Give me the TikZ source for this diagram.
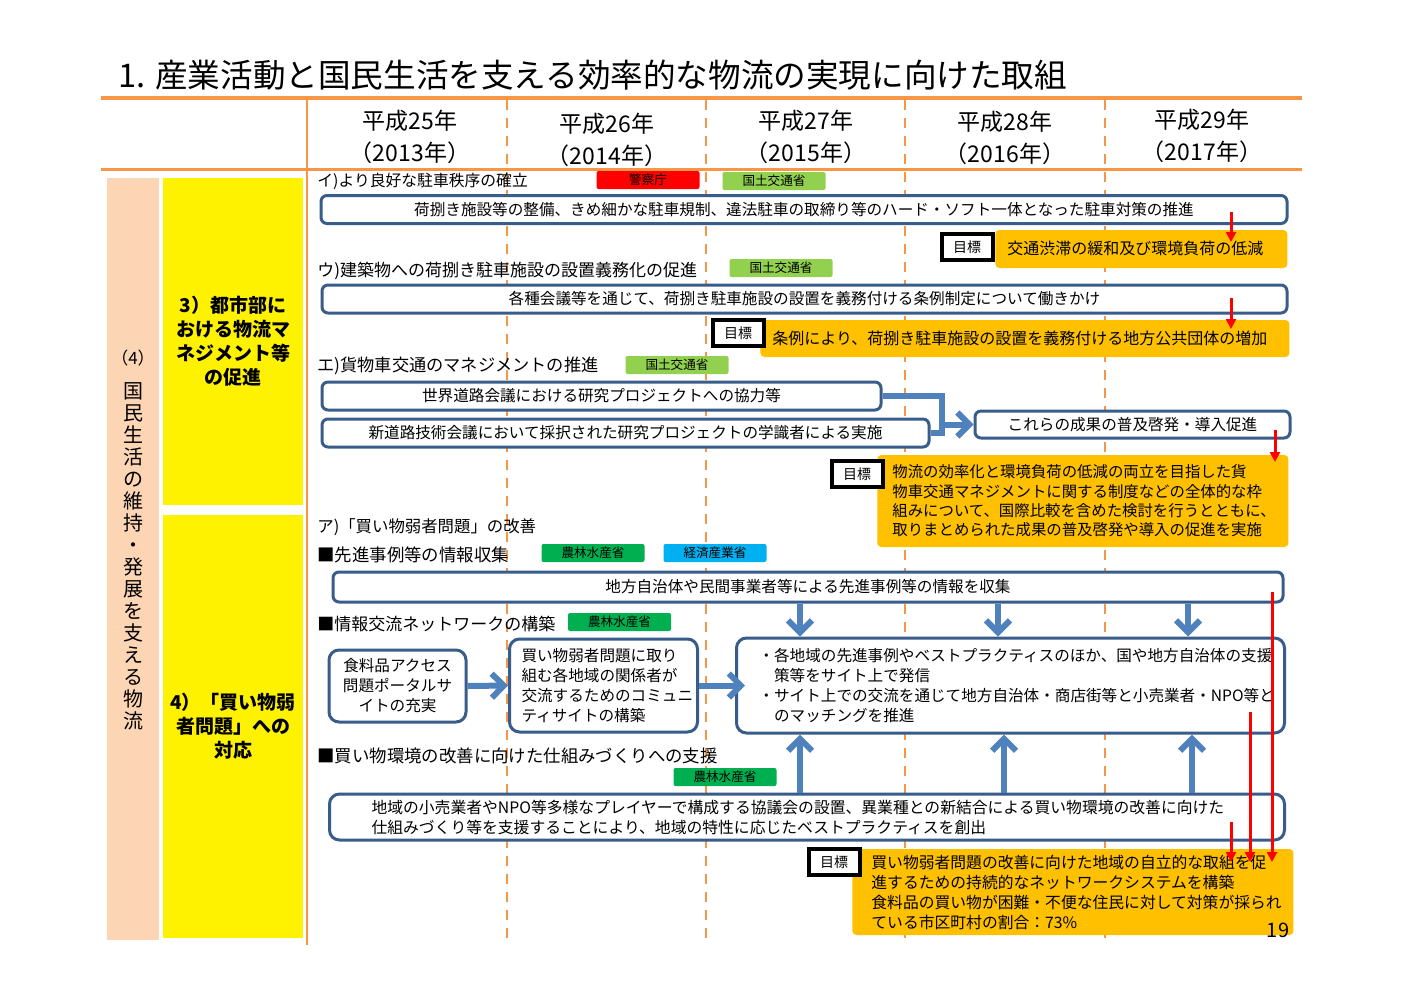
\documentclass[tikz,border=0pt]{standalone}
\usepackage{fontspec}
\setmainfont{Noto Sans CJK JP}
\usetikzlibrary{positioning,arrows.meta}

\definecolor{ruleor}{HTML}{F79646}
\definecolor{peach}{HTML}{FCD5B5}
\definecolor{navy}{HTML}{385D8A}
\definecolor{steel}{HTML}{4F81BD}
\definecolor{gold}{HTML}{FFC000}
\definecolor{mlit}{HTML}{92D050}
\definecolor{maff}{HTML}{00B050}
\definecolor{meti}{HTML}{00B0F0}

\newcommand\fsbody{\fontsize{7.8}{10}\selectfont}
\newcommand\fsgoal{\fontsize{8}{10}\selectfont}
\newcommand\fshead{\fontsize{8.7}{10}\selectfont}
\newcommand\fstag{\fontsize{6.3}{7}\selectfont}

\begin{document}
\begin{tikzpicture}[
  x=0.5pt, y=-0.5pt,
  font=\fsbody,
  box/.style={draw=navy, line width=1.5pt, fill=white, rounded corners=3pt, inner sep=0pt},
  bar/.style={box, minimum height=14pt},
  rbox/.style={box, rounded corners=5pt},
  goal/.style={fill=gold, rounded corners=2pt, anchor=west, align=left, inner ysep=0pt, font=\fsgoal},
  aim/.style={draw=black, line width=2pt, fill=white, minimum width=25.5pt, minimum height=13pt,
              inner sep=0pt, font=\fontsize{7}{8}\selectfont},
  agency/.style={minimum width=51.5pt, minimum height=9pt, inner sep=0pt, rounded corners=1pt, font=\fstag},
  lbl/.style={anchor=west, inner sep=0pt},
  side/.style={inner sep=0pt, align=center, font=\bfseries\fontsize{9.5}{12}\selectfont},
  year/.style={align=center, inner sep=0pt, font=\fontsize{11.5}{16}\selectfont},
  barr/.style={draw=steel, line width=3pt, -{Straight Barb[length=6pt,width=12pt]}},
  bline/.style={draw=steel, line width=3pt},
  rarr/.style={draw=red, line width=1.5pt, -{Triangle[length=5pt,width=5pt]}},
  sep/.style={draw=ruleor, line width=1pt, dash pattern=on 5pt off 4pt}
]
\fill[white] (0,0) rectangle (1403,992);
\useasboundingbox (0,0) rectangle (1403,992);
% ---------------- title and grid
\node[anchor=west, inner sep=0pt, font=\fontsize{16.3}{18}\selectfont] (title) at (118,75)
  {1. 産業活動と国民生活を支える効率的な物流の実現に向けた取組};
\draw[ruleor, line width=2pt] (101,98) -- (1302,98);
\draw[ruleor, line width=1.5pt] (101,169) -- (1302,169);
\draw[ruleor, line width=1pt] (307,98) -- (307,945);
\foreach \xx in {507,706,905,1105} { \draw[sep] (\xx,100) -- (\xx,945); }
\foreach \xx/\yy/\hn/\yr [count=\i] in {410/137/25/2013, 607/140/26/2014, 806/137/27/2015, 1005/138/28/2016, 1202/136/29/2017}
  { \node[year] (yr\i) at (\xx,\yy) {平成\hn{}年\\（\yr{}年）}; }
% ---------------- left column
\node[side, fill=peach, minimum width=26pt, minimum height=381pt] (sec) at (133,559) {};
\node[side, font=\fontsize{10}{11}\selectfont] (secl) at (133,540)
  {{\fontsize{8.5}{11}\selectfont （4）}\\[6pt]国\\民\\生\\活\\の\\維\\持\\・\\発\\展\\を\\支\\え\\る\\物\\流};
\node[side, fill=yellow, minimum width=70pt, minimum height=163.5pt] (s3) at (233,341.5)
  {3）都市部に\\おける物流マ\\ネジメント等\\の促進};
\node[side, fill=yellow, minimum width=70pt, minimum height=211.5pt] (s4) at (233,726.5)
  {4）「買い物弱\\者問題」への\\対応};
% ---------------- parking order
\node[lbl, font=\fontsize{7.9}{10}\selectfont] (la) at (317,181) {イ)より良好な駐車秩序の確立};
\node[agency, fill=red] (ag1) at (648,180) {警察庁};
\node[agency, fill=mlit] (ag2) at (774,181) {国土交通省};
\node[bar, minimum width=483pt] (bar1) at (804,209.5)
  {荷捌き施設等の整備、きめ細かな駐車規制、違法駐車の取締り等のハード・ソフト一体となった駐車対策の推進};
\node[goal, minimum height=19pt, text width=134pt, inner xsep=6pt] (goal1) at (995,249)
  {交通渋滞の緩和及び環境負荷の低減};
\node[aim] (aim1) at (967,247) {目標};
% ---------------- loading bays
\node[lbl, font=\fontsize{8.5}{10}\selectfont] (lb) at (317,271) {ウ)建築物への荷捌き駐車施設の設置義務化の促進};
\node[agency, fill=mlit] (ag3) at (781,268) {国土交通省};
\node[bar, minimum width=482.5pt] (bar2) at (804.5,299)
  {各種会議等を通じて、荷捌き駐車施設の設置を義務付ける条例制定について働きかけ};
\node[goal, minimum height=18.5pt, text width=252.5pt, inner xsep=6pt] (goal2) at (760,338.5)
  {条例により、荷捌き駐車施設の設置を義務付ける地方公共団体の増加};
\node[aim] (aim2) at (738,333) {目標};
% ---------------- truck traffic
\node[lbl, font=\fontsize{8.6}{10}\selectfont] (lc) at (317,366) {エ)貨物車交通のマネジメントの推進};
\node[agency, fill=mlit] (ag4) at (677,365) {国土交通省};
\node[bar, minimum width=279.5pt] (res1) at (601.5,396) {世界道路会議における研究プロジェクトへの協力等};
\node[bar, minimum width=303.5pt] (res2) at (625.5,433) {新道路技術会議において採択された研究プロジェクトの学識者による実施};
\node[bar, minimum width=157.5pt, minimum height=13.5pt] (spread) at (1132.5,424.5) {これらの成果の普及啓発・導入促進};
\coordinate (jn) at (942,424.5);
\draw[bline] (res1.east) -| (jn) |- (res2.east);
\draw[barr] (jn) -- (spread.west);
\node[goal, minimum height=46pt, text width=190.5pt, inner xsep=7.5pt, font=\fontsize{7.7}{9.7}\selectfont] (goal3) at (877,501)
  {物流の効率化と環境負荷の低減の両立を目指した貨\\物車交通マネジメントに関する制度などの全体的な枠\\組みについて、国際比較を含めた検討を行うとともに、\\取りまとめられた成果の普及啓発や導入の促進を実施};
\node[aim] (aim3) at (857,474) {目標};
% ---------------- shopping
\node[lbl, font=\fontsize{8.2}{10}\selectfont] (ld) at (317,527) {ア)「買い物弱者問題」の改善};
\node[lbl, font=\fshead] (le) at (317,555) {■先進事例等の情報収集};
\node[agency, fill=maff] (ag5) at (593,553) {農林水産省};
\node[agency, fill=meti] (ag6) at (715,553) {経済産業省};
\node[bar, minimum width=475pt, minimum height=15pt] (collect) at (808,587) {地方自治体や民間事業者等による先進事例等の情報を収集};
\node[lbl, font=\fontsize{8.5}{10}\selectfont] (lf) at (317,624) {■情報交流ネットワークの構築};
\node[agency, fill=maff] (ag7) at (619.5,622) {農林水産省};
\node[rbox, minimum width=68.5pt, minimum height=36pt, align=center] (portal) at (397.5,686)
  {食料品アクセス\\問題ポータルサ\\イトの充実};
\node[rbox, anchor=west, align=left, text width=82pt, inner xsep=6pt, minimum height=46.5pt] (community) at (508,685.5)
  {買い物弱者問題に取り\\組む各地域の関係者が\\交流するためのコミュニ\\ティサイトの構築};
\node[rbox, anchor=west, align=left, text width=252pt, inner xsep=11pt, minimum height=47.5pt] (site) at (735,685.5)
  {・各地域の先進事例やベストプラクティスのほか、国や地方自治体の支援\\\hspace*{1em}策等をサイト上で発信\\・サイト上での交流を通じて地方自治体・商店街等と小売業者・NPO等と\\\hspace*{1em}のマッチングを推進};
\draw[barr] (portal.east) -- (community.west);
\draw[barr] (community.east) -- ([xshift=5pt]site.west);
\foreach \xx in {800,998,1188} { \draw[barr] (\xx,0 |- collect.south) -- (\xx,0 |- site.north); }
\node[lbl, font=\fshead] (lg) at (317,756) {■買い物環境の改善に向けた仕組みづくりへの支援};
\node[agency, fill=maff] (ag8) at (725,777) {農林水産省};
\node[rbox, anchor=west, align=left, text width=435.5pt, inner xsep=21pt, minimum height=23pt, font=\fontsize{7.9}{10}\selectfont] (council) at (328,817)
  {地域の小売業者やNPO等多様なプレイヤーで構成する協議会の設置、異業種との新結合による買い物環境の改善に向けた\\仕組みづくり等を支援することにより、地域の特性に応じたベストプラクティスを創出};
\foreach \xx in {800,1004,1192} { \draw[barr] (\xx,0 |- council.north) -- (\xx,0 |- site.south); }
\node[goal, minimum height=43pt, text width=201.5pt, inner xsep=9.5pt, font=\fontsize{7.9}{10}\selectfont] (goal4) at (852,892)
  {買い物弱者問題の改善に向けた地域の自立的な取組を促\\進するための持続的なネットワークシステムを構築\\食料品の買い物が困難・不便な住民に対して対策が採られ\\ている市区町村の割合：73\%};
\node[aim] (aim4) at (834,862) {目標};
% ---------------- goal links
\foreach \xx/\ya/\yb [count=\i] in {1231/212/242, 1231/298/329, 1275/430/462, 1231/822/862, 1250/712/862, 1272/592/862}
  { \coordinate (rs\i) at (\xx,\ya); \coordinate (re\i) at (\xx,\yb); \draw[rarr] (rs\i) -- (re\i); }
\node[font=\fontsize{10}{10}\selectfont] (pg) at (1278,930) {19};
\end{tikzpicture}
\end{document}
